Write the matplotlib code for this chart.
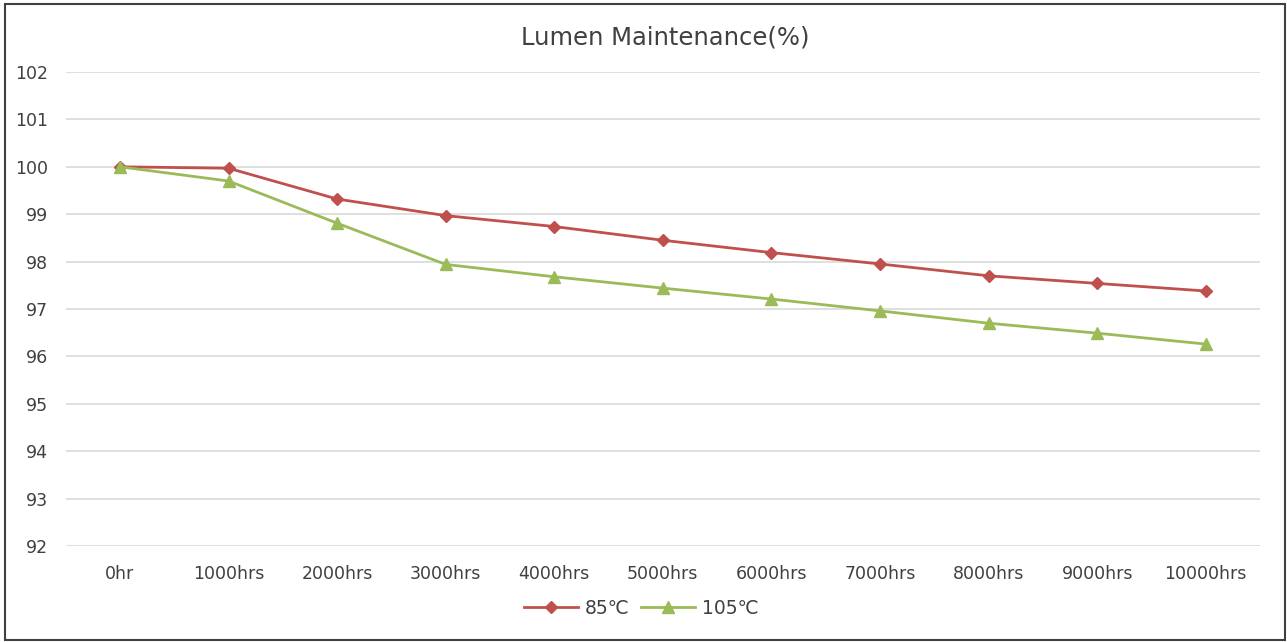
import matplotlib
matplotlib.use("Agg")
import matplotlib.pyplot as plt
from matplotlib.patches import Rectangle

categories = ["0hr", "1000hrs", "2000hrs", "3000hrs", "4000hrs", "5000hrs",
              "6000hrs", "7000hrs", "8000hrs", "9000hrs", "10000hrs"]
series_85 = [100.0, 99.97, 99.32, 98.97, 98.74, 98.45, 98.19, 97.95, 97.70, 97.54, 97.38]
series_105 = [100.0, 99.70, 98.81, 97.94, 97.68, 97.44, 97.21, 96.96, 96.70, 96.49, 96.26]
y_ticks = [92, 93, 94, 95, 96, 97, 98, 99, 100, 101, 102]
title = "Lumen Maintenance(%)"
labels = ["85℃", "105℃"]

plt.rcParams['font.family'] = ["DejaVu Sans"]

W, H = 1287, 642
fig = plt.figure(figsize=(W / 100, H / 100), dpi=100)
fig.patch.set_facecolor("white")

ax = fig.add_axes([65.7 / W, 1 - 546 / H, (1260 - 65.7) / W, (546 - 72) / H])
x = list(range(len(categories)))
red = "#C0504D"
green = "#9BBB59"
ax.plot(x, series_85, color=red, lw=2, marker="D", ms=6.5, label=labels[0], zorder=3)
ax.plot(x, series_105, color=green, lw=2, marker="^", ms=8, label=labels[1], zorder=3)

ax.set_xlim(-0.5, len(categories) - 0.5)
ax.set_ylim(92, 102)
ax.set_yticks(y_ticks)
ax.set_yticklabels([str(v) for v in y_ticks])
ax.set_xticks(x)
ax.set_xticklabels(categories)
ax.grid(axis="y", color="#D9D9D9", lw=1.2)
ax.set_axisbelow(True)
for s in ax.spines.values():
    s.set_visible(False)
ax.tick_params(axis="both", length=0, labelsize=12.5, colors="#404040")
ax.tick_params(axis="y", pad=12.7)
ax.tick_params(axis="x", pad=13.5)

fig.text(665 / W, 1 - 38 / H, title, ha="center", va="center", fontsize=17.5, color="#404040")

leg = fig.legend(loc="center", bbox_to_anchor=(641 / W, 1 - 608 / H), ncol=2, frameon=False,
                 fontsize=13.5, handlelength=2.9, columnspacing=0.6, handletextpad=0.35)
for t in leg.get_texts():
    t.set_color("#404040")

fig.patches.append(Rectangle((5 / W, 2 / H), 1280 / W, 636 / H, transform=fig.transFigure,
                             fill=False, edgecolor="#404040", lw=1.5))

fig.savefig("out.png", dpi=100, facecolor="white")
